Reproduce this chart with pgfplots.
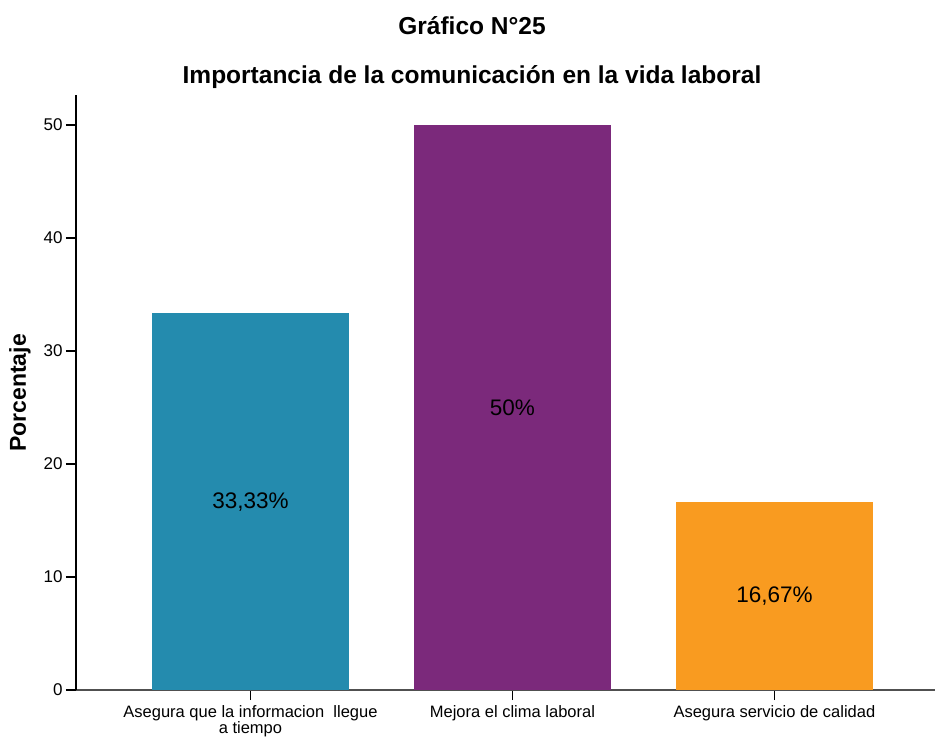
\documentclass[border=0pt]{standalone}
\usepackage{fontspec}
\setmainfont{Liberation Sans}
\usepackage{pgfplots}
\pgfplotsset{compat=1.18}

\definecolor{barteal}{RGB}{36,139,174}
\definecolor{barpurple}{RGB}{123,41,123}
\definecolor{barorange}{RGB}{249,155,32}
\definecolor{axisgray}{RGB}{80,80,80}

\begin{document}
\begin{tikzpicture}[x=1pt,y=1pt]
  \path[use as bounding box] (0,0) rectangle (936,736);
  \node[font=\bfseries\fontsize{24.5}{28}\selectfont] at (472,710) {Gráfico N°25};
  \node[font=\bfseries\fontsize{24.5}{28}\selectfont] at (472,659) {Importancia de la comunicación en la vida laboral};
  \node[font=\bfseries\fontsize{23}{27}\selectfont, rotate=90] at (20,343) {Porcentaje};
  \begin{axis}[
      at={(76pt,46pt)}, anchor=south west,
      scale only axis,
      width=859pt, height=595pt,
      xmin=-0.666, xmax=2.613,
      ymin=0, ymax=52.65,
      axis x line*=bottom,
      axis y line*=left,
      x axis line style={draw=axisgray, line width=1.2pt, -},
      y axis line style={draw=black, line width=1.2pt, -},
      tick align=outside,
      major tick length=10pt,
      tick style={black, line width=1.2pt},
      xtick={0,1,2},
      xticklabels={{Asegura que la informacion\ \ llegue\\a tiempo},
                   {Mejora el clima laboral},
                   {Asegura servicio de calidad}},
      xticklabel style={align=center, font=\fontsize{16.5}{15}\selectfont, yshift=-2pt},
      ytick={0,10,20,30,40,50},
      yticklabel style={font=\fontsize{17}{18}\selectfont},
      /pgf/number format/assume math mode=true,
      ybar, bar width=197pt, bar shift=0pt,
    ]
    \addplot[draw=none, fill=barteal] coordinates {(0,33.33)};
    \addplot[draw=none, fill=barpurple] coordinates {(1,50)};
    \addplot[draw=none, fill=barorange] coordinates {(2,16.67)};
    \addplot[draw=none, mark=none, nodes near coords,
      point meta=explicit symbolic,
      nodes near coords align={center},
      every node near coord/.append style={font=\fontsize{22.5}{26}\selectfont, black}]
      coordinates {(0,16.665)[33,33\%] (1,25)[50\%] (2,8.335)[16,67\%]};
  \end{axis}
\end{tikzpicture}
\end{document}
